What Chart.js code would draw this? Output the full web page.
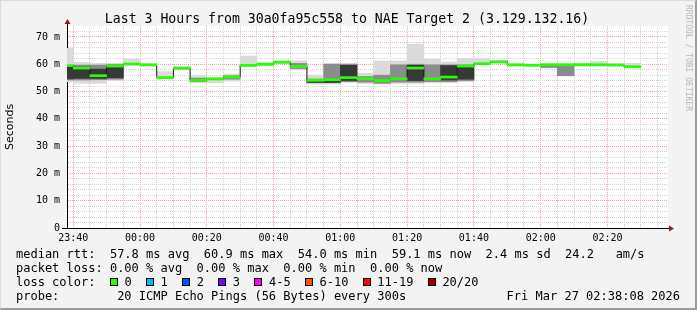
<!DOCTYPE html>
<html>
<head>
<meta charset="utf-8">
<script src="https://cdn.jsdelivr.net/npm/chart.js@4.4.1/dist/chart.umd.min.js"></script>
<style>
    html, body { margin: 0; padding: 0; background: #f3f3f3; }
    #wrap { position: relative; width: 697px; height: 310px; overflow: hidden; background: #f3f3f3; }
    #wrap canvas { position: absolute; left: 0; top: 0; }
    #frame { position: absolute; left: 0; top: 0; width: 697px; height: 310px; box-sizing: border-box;
             border-top: 1px solid #dcdcdc; border-left: 1px solid #dcdcdc;
             border-right: 2px solid #9c9c9c; border-bottom: 2px solid #9c9c9c; pointer-events: none; }
    .mono { font-family: 'DejaVu Sans Mono', monospace; color: #000; white-space: pre; position: absolute; }
    #title { left: 0; top: 11px; width: 694px; text-align: center; font-size: 13.2px; line-height: 16px; }
    #brand { left: 684px; top: 5px; font-size: 8px; line-height: 9px; color: #b8b8b8; writing-mode: vertical-rl; }
    #legend { left: 16px; top: 247px; font-size: 12px; line-height: 14px; }
    #stamp { right: 17px; top: 289px; font-size: 12px; line-height: 14px; }
    .box { display: inline-block; width: 6px; height: 6px; border: 1px solid #000; margin-right: calc(1ch - 8px); vertical-align: 0px; }
</style>
</head>
<body>
<div id="wrap">
    <canvas id="smokeChart" width="697" height="310"></canvas>
    <div id="title" class="mono">Last 3 Hours from 30a0fa95c558 to NAE Target 2 (3.129.132.16)</div>
    <div id="brand" class="mono">RRDTOOL / TOBI OETIKER</div>
    <div id="legend" class="mono"></div>
    <div id="stamp" class="mono">Fri Mar 27 02:38:08 2026</div>
    <div id="frame"></div>
</div>
<script>
// ===== data (5 minute buckets, values in ms) =====
const bucketStarts = ['23:35', '23:40', '23:45', '23:50', '23:55',
    '00:00', '00:05', '00:10', '00:15', '00:20', '00:25', '00:30', '00:35', '00:40', '00:45', '00:50', '00:55',
    '01:00', '01:05', '01:10', '01:15', '01:20', '01:25', '01:30', '01:35', '01:40', '01:45', '01:50', '01:55',
    '02:00', '02:05', '02:10', '02:15', '02:20', '02:25'];
const medianRtt = [59.5, 58.6, 55.8, 59.3, 60.1, 59.8, 55.1, 58.5, 54.1, 54.6, 55.3, 59.6, 60.0, 60.7, 59.2, 54.1, 54.3,
    55.1, 54.7, 54.0, 54.7, 58.6, 54.7, 55.3, 59.3, 60.2, 60.9, 59.8, 59.6, 59.8, 59.8, 59.8, 59.8, 59.7, 59.1];
// outer smoke: fastest .. slowest ping
const smokeMin = [53.6, 53.0, 53.0, 54.0, 59.6, 59.2, 54.5, 57.9, 53.2, 53.2, 53.8, 59.1, 59.3, 60.2, 57.9, 52.7, 52.7,
    53.3, 53.0, 52.7, 53.0, 53.0, 53.2, 53.2, 53.6, 59.8, 60.3, 59.2, 59.4, 58.6, 55.7, 59.3, 59.3, 59.3, 58.9];
const smokeMax = [65.8, 60.7, 60.3, 60.3, 61.8, 60.1, 57.3, 59.3, 55.7, 55.2, 56.4, 63.0, 60.6, 61.5, 61.3, 56.0, 60.3,
    60.3, 56.7, 61.2, 61.2, 67.4, 61.8, 60.8, 62.1, 62.1, 61.3, 60.1, 60.0, 60.2, 60.2, 60.4, 61.0, 60.3, 60.3];
// middle smoke
const midLow = [54.2, 54.2, 54.3, 54.5, null, null, null, null, 53.6, null, 54.5, null, null, null, 58.4, 53.2, 53.2,
    53.6, 53.4, 53.0, 53.4, 53.4, 53.6, 53.6, 54.0, null, null, null, null, 58.8, 55.8, null, null, null, null];
const midHigh = [59.6, 59.7, 59.7, 59.9, null, null, null, null, 54.9, null, 55.8, null, null, null, 60.3, 54.6, 60.0,
    60.0, 55.5, 56.0, 59.8, 60.0, 59.8, 59.8, 59.8, null, null, null, null, 59.8, 59.7, null, null, null, null];
// dense core of the smoke
const coreLow = [54.6, 54.8, 54.8, 55.0, null, null, null, null, null, null, null, null, null, null, null, 53.3, 53.3,
    54.0, null, null, null, 54.0, null, 54.2, 54.5, null, null, null, null, null, null, null, null, null, null];
const coreHigh = [59.2, 59.0, 58.2, 59.3, null, null, null, null, null, null, null, null, null, null, null, 54.0, 54.3,
    59.6, null, null, null, 59.6, null, 59.5, 59.6, null, null, null, null, null, null, null, null, null, null];

const xTickLabels = ['23:40', '00:00', '00:20', '00:40', '01:00', '01:20', '01:40', '02:00', '02:20'];
const yTickLabels = [0, 10, 20, 30, 40, 50, 60, 70];
const rangeStart = '23:38:08';
const lossLabels = ['0', '1', '2', '3', '4-5', '6-10', '11-19', '20/20'];
const lossColors = ['#26ff00', '#00b8ff', '#0059ff', '#7e00ff', '#ff00ff', '#ff5500', '#ff0000', '#a10000'];

// ===== helpers =====
function toMin(s) {
    const [h, m, sec] = s.split(':').map(Number);
    return (h < 12 ? h + 24 : h) * 60 + m + (sec || 0) / 60;
}
const STEP = 5;
const X_MIN = toMin(rangeStart);
const X_MAX = X_MIN + 180;
const center = i => toMin(bucketStarts[i]) + STEP / 2;

function band(lo, hi) {
    const out = [];
    bucketStarts.forEach((s, i) => {
        if (lo[i] != null && hi[i] != null) out.push({ x: center(i), y: [lo[i], hi[i]] });
    });
    return out;
}
const fmtTime = v => {
    const t = Math.round(v) % 1440;
    return String(Math.floor(t / 60)).padStart(2, '0') + ':' + String(t % 60).padStart(2, '0');
};
const isMajorX = c => !!c.tick && xTickLabels.includes(fmtTime(c.tick.value));
const isMajorY = c => !!c.tick && yTickLabels.includes(c.tick.value);

// ===== legend text =====
document.getElementById('legend').innerHTML =
    'median rtt:  57.8 ms avg  60.9 ms max  54.0 ms min  59.1 ms now  2.4 ms sd  24.2   am/s\n' +
    'packet loss: 0.00 % avg  0.00 % max  0.00 % min  0.00 % now\n' +
    'loss color:  ' + lossLabels.map((l, i) =>
        `<span class="box" style="background:${lossColors[i]}"></span> ${l}`).join('  ') + '\n' +
    'probe:        20 ICMP Echo Pings (56 Bytes) every 300s';

// ===== plugins =====
const plotBg = {
    id: 'plotBg',
    beforeDraw(chart) {
        const { ctx, chartArea: a } = chart;
        ctx.save();
        ctx.fillStyle = '#ffffff';
        ctx.fillRect(a.left, a.top, a.right - a.left, a.bottom - a.top);
        ctx.restore();
    }
};
const axisArrows = {
    id: 'axisArrows',
    afterDraw(chart) {
        const { ctx, chartArea: a } = chart;
        ctx.save();
        ctx.strokeStyle = '#000';
        ctx.lineWidth = 1;
        ctx.beginPath();
        ctx.moveTo(a.left + 0.5, a.top); ctx.lineTo(a.left + 0.5, a.top - 3);
        ctx.moveTo(a.right, a.bottom + 0.5); ctx.lineTo(a.right + 2, a.bottom + 0.5);
        ctx.moveTo(a.left - 5, a.bottom + 0.5); ctx.lineTo(a.left, a.bottom + 0.5);
        ctx.stroke();
        ctx.fillStyle = '#8b1a1a';
        ctx.beginPath();
        ctx.moveTo(a.left + 0.5, a.top - 7); ctx.lineTo(a.left - 2.5, a.top - 2); ctx.lineTo(a.left + 3.5, a.top - 2);
        ctx.closePath(); ctx.fill();
        ctx.beginPath();
        ctx.moveTo(a.right + 6, a.bottom + 0.5); ctx.lineTo(a.right + 1, a.bottom - 2.5); ctx.lineTo(a.right + 1, a.bottom + 3.5);
        ctx.closePath(); ctx.fill();
        ctx.restore();
    }
};

// ===== chart =====
const MAJOR = '#f5a3a3';
const MINOR = '#d2d2d2';

new Chart(document.getElementById('smokeChart'), {
    type: 'bar',
    data: {
        datasets: [
            { label: 'median', data: band(medianRtt.map(v => v - 0.37), medianRtt.map(v => v + 0.37)),
              backgroundColor: lossColors[0], order: 0 },
            { type: 'line', label: 'step', data: bucketStarts.map((s, i) => ({ x: center(i), y: medianRtt[i] })),
              stepped: 'middle', borderColor: '#1a1a1a', borderWidth: 1, pointRadius: 0, order: 1 },
            { label: 'core', data: band(coreLow, coreHigh), backgroundColor: '#383838', order: 2 },
            { label: 'mid', data: band(midLow, midHigh), backgroundColor: '#8c8c8c', order: 3 },
            { label: 'smoke', data: band(smokeMin, smokeMax), backgroundColor: '#dadada', order: 4 }
        ]
    },
    options: {
        responsive: false,
        animation: false,
        devicePixelRatio: 1,
        layout: { padding: { left: 0, top: 26, right: 29, bottom: 0 } },
        plugins: { legend: { display: false }, tooltip: { enabled: false } },
        datasets: { bar: { grouped: false, barPercentage: 1, categoryPercentage: 1, borderWidth: 0 } },
        scales: {
            x: {
                type: 'linear', min: X_MIN, max: X_MAX, offset: false,
                afterBuildTicks: s => {
                    s.ticks = [];
                    for (let v = Math.ceil(X_MIN / STEP) * STEP; v <= X_MAX; v += STEP) s.ticks.push({ value: v });
                },
                afterFit: s => { s.height = 82; s.paddingLeft = 0; s.paddingRight = 0; },
                ticks: {
                    autoSkip: false, maxRotation: 0, minRotation: 0, padding: 4, color: '#000',
                    font: { family: 'DejaVu Sans Mono', size: 10 },
                    callback: v => xTickLabels.includes(fmtTime(v)) ? fmtTime(v) : ''
                },
                grid: { offset: false, drawTicks: false, lineWidth: 1, color: c => isMajorX(c) ? MAJOR : MINOR },
                border: { display: true, color: '#000', width: 1, dash: [1, 1] }
            },
            y: {
                min: 0, max: 74,
                afterBuildTicks: s => {
                    s.ticks = [];
                    for (let v = 0; v <= 72; v += 2) s.ticks.push({ value: v });
                },
                afterFit: s => { s.width = 67; s.paddingTop = 0; s.paddingBottom = 0; },
                ticks: {
                    autoSkip: false, padding: 7, color: '#000',
                    font: { family: 'DejaVu Sans Mono', size: 10 },
                    callback: v => yTickLabels.includes(v) ? (v === 0 ? '0' : v + ' m') : ''
                },
                grid: { drawTicks: false, lineWidth: 1, color: c => isMajorY(c) ? MAJOR : MINOR },
                border: { display: true, color: '#000', width: 1, dash: [1, 1] },
                title: { display: true, text: 'Seconds', color: '#000', padding: { top: 4, bottom: 0 },
                         font: { family: 'DejaVu Sans', size: 11 } }
            }
        }
    },
    plugins: [plotBg, axisArrows]
});
</script>
</body>
</html>
